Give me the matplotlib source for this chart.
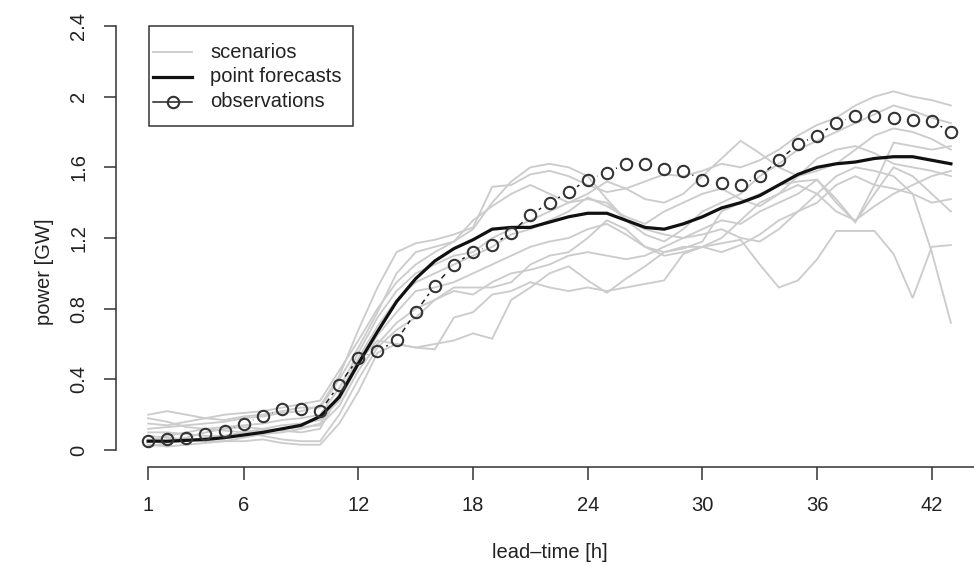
import numpy as np
import matplotlib
matplotlib.use("Agg")
import matplotlib.pyplot as plt
from matplotlib.lines import Line2D
from matplotlib.patches import Rectangle
from matplotlib.collections import LineCollection

plt.rcParams['font.family'] = ['Liberation Sans', 'DejaVu Sans']

# ---------------- data ----------------
lead_time = list(range(1, 44))

observations = [0.05, 0.06, 0.07, 0.09, 0.11, 0.15, 0.19, 0.23, 0.23, 0.22,
                 0.37, 0.52, 0.56, 0.62, 0.78, 0.93, 1.05, 1.12, 1.16, 1.23,
                 1.33, 1.40, 1.46, 1.53, 1.57, 1.62, 1.62, 1.59, 1.58, 1.53,
                 1.51, 1.50, 1.55, 1.64, 1.73, 1.78, 1.85, 1.89, 1.89, 1.88,
                 1.87, 1.86, 1.80]

point_forecast = [0.05, 0.05, 0.055, 0.06, 0.07, 0.085, 0.10, 0.12, 0.14, 0.19,
                  0.30, 0.49, 0.67, 0.84, 0.97, 1.07, 1.14, 1.19, 1.25, 1.26,
                  1.26, 1.29, 1.32, 1.34, 1.34, 1.30, 1.26, 1.25, 1.28, 1.32,
                  1.37, 1.40, 1.44, 1.50, 1.56, 1.60, 1.62, 1.63, 1.65, 1.66,
                  1.66, 1.64, 1.62]

scenario_1 = [0.12, 0.13, 0.14, 0.15, 0.16, 0.18, 0.19, 0.21, 0.22, 0.25,
              0.42, 0.68, 0.92, 1.12, 1.17, 1.19, 1.22, 1.26, 1.49, 1.50,
              1.56, 1.58, 1.55, 1.50, 1.46, 1.48, 1.52, 1.56, 1.55, 1.58,
              1.62, 1.60, 1.64, 1.70, 1.78, 1.84, 1.88, 1.95, 2.00, 2.03,
              2.00, 1.98, 1.95]
scenario_2 = [0.03, 0.02, 0.03, 0.04, 0.05, 0.05, 0.06, 0.04, 0.03, 0.03,
              0.15, 0.33, 0.55, 0.60, 0.58, 0.60, 0.62, 0.66, 0.63, 0.85,
              0.92, 1.00, 1.04, 0.96, 0.89, 0.97, 1.04, 1.12, 1.15, 1.15,
              1.12, 1.16, 1.22, 1.30, 1.35, 1.45, 1.55, 1.60, 1.58, 1.55,
              1.45, 1.12, 0.72]
scenario_3 = [0.08, 0.07, 0.06, 0.05, 0.05, 0.07, 0.09, 0.10, 0.12, 0.15,
              0.30, 0.50, 0.62, 0.60, 0.58, 0.57, 0.75, 0.78, 0.88, 0.90,
              0.95, 0.92, 0.90, 0.92, 0.90, 0.92, 0.94, 0.96, 1.11, 1.15,
              1.17, 1.19, 1.05, 0.92, 0.96, 1.08, 1.24, 1.24, 1.24, 1.11,
              0.86, 1.15, 1.16]
scenario_4 = [0.05, 0.08, 0.10, 0.12, 0.13, 0.14, 0.15, 0.17, 0.18, 0.20,
              0.35, 0.55, 0.75, 0.90, 1.00, 1.05, 1.10, 1.12, 1.20, 1.25,
              1.30, 1.35, 1.40, 1.42, 1.40, 1.30, 1.25, 1.22, 1.20, 1.25,
              1.30, 1.28, 1.35, 1.40, 1.45, 1.53, 1.42, 1.29, 1.45, 1.60,
              1.55, 1.45, 1.35]
scenario_5 = [0.15, 0.14, 0.16, 0.18, 0.20, 0.21, 0.22, 0.24, 0.26, 0.28,
              0.45, 0.62, 0.80, 0.95, 1.05, 1.12, 1.18, 1.30, 1.38, 1.45,
              1.50, 1.45, 1.40, 1.45, 1.52, 1.48, 1.42, 1.40, 1.45, 1.55,
              1.65, 1.75, 1.68, 1.60, 1.55, 1.58, 1.62, 1.70, 1.78, 1.82,
              1.80, 1.76, 1.70]
scenario_6 = [0.20, 0.22, 0.20, 0.18, 0.17, 0.19, 0.20, 0.22, 0.24, 0.24,
              0.40, 0.58, 0.78, 1.00, 1.12, 1.15, 1.18, 1.25, 1.40, 1.52,
              1.60, 1.62, 1.60, 1.55, 1.42, 1.30, 1.22, 1.18, 1.25, 1.35,
              1.40, 1.45, 1.55, 1.62, 1.70, 1.75, 1.80, 1.85, 1.90, 1.95,
              1.92, 1.88, 1.85]
scenario_7 = [0.10, 0.10, 0.09, 0.08, 0.08, 0.10, 0.11, 0.12, 0.13, 0.14,
              0.25, 0.45, 0.60, 0.72, 0.80, 0.85, 0.92, 0.92, 0.92, 0.95,
              1.05, 1.10, 1.12, 1.20, 1.30, 1.25, 1.15, 1.10, 1.12, 1.15,
              1.20, 1.30, 1.40, 1.45, 1.50, 1.45, 1.35, 1.30, 1.38, 1.45,
              1.50, 1.55, 1.58]
scenario_8 = [0.06, 0.05, 0.07, 0.10, 0.12, 0.13, 0.12, 0.11, 0.10, 0.12,
              0.32, 0.52, 0.70, 0.85, 0.95, 1.00, 1.05, 1.10, 1.15, 1.22,
              1.25, 1.30, 1.35, 1.43, 1.38, 1.32, 1.28, 1.35, 1.40, 1.45,
              1.48, 1.42, 1.38, 1.45, 1.55, 1.65, 1.70, 1.72, 1.68, 1.62,
              1.60, 1.58, 1.55]
scenario_9 = [0.02, 0.04, 0.05, 0.07, 0.08, 0.10, 0.12, 0.14, 0.15, 0.17,
              0.28, 0.48, 0.65, 0.78, 0.90, 0.92, 0.95, 1.00, 1.05, 1.10,
              1.15, 1.18, 1.20, 1.25, 1.28, 1.22, 1.15, 1.12, 1.14, 1.18,
              1.35, 1.40, 1.45, 1.50, 1.52, 1.53, 1.40, 1.29, 1.50, 1.74,
              1.72, 1.70, 1.72]
scenario_10 = [0.18, 0.16, 0.13, 0.12, 0.11, 0.10, 0.08, 0.06, 0.05, 0.05,
               0.20, 0.40, 0.58, 0.68, 0.75, 0.85, 0.90, 0.88, 0.95, 1.00,
               1.02, 1.05, 1.10, 1.12, 1.10, 1.08, 1.10, 1.15, 1.20, 1.22,
               1.25, 1.20, 1.18, 1.25, 1.35, 1.40, 1.50, 1.55, 1.50, 1.48,
               1.45, 1.40, 1.42]
scenarios = [scenario_1, scenario_2, scenario_3, scenario_4, scenario_5,
             scenario_6, scenario_7, scenario_8, scenario_9, scenario_10]

x_ticks = [1, 6, 12, 18, 24, 30, 36, 42]
y_ticks = [0, 0.4, 0.8, 1.2, 1.6, 2.0, 2.4]
y_tick_labels = ["0", "0.4", "0.8", "1.2", "1.6", "2", "2.4"]

# ---------------- figure ----------------
W, H = 974, 566
fig = plt.figure(figsize=(W / 100, H / 100), dpi=100)
fig.patch.set_facecolor('white')

def fx(px):
    return px / W

def fy(py):
    return 1 - py / H

# axes region in pixels (left, top, right, bottom)
L, T, R, B = 116, 9, 983, 467
ax = fig.add_axes([fx(L), fy(B), (R - L) / W, (B - T) / H])

xmin, xmax = min(lead_time), max(lead_time)
xpad = 0.04 * (xmax - xmin)
ax.set_xlim(xmin - xpad, xmax + xpad)
ax.set_ylim(0 - 0.04 * 2.4, 2.4 + 0.04 * 2.4)

text_color = '#222222'
scen_color = '#cccccc'
FS = 14.5

for s in scenarios:
    ax.plot(lead_time, s, color=scen_color, lw=1.35, zorder=1,
            solid_joinstyle='miter')

ax.plot(lead_time, point_forecast, color='#111111', lw=2.3, zorder=3)

# observations: type="b" style (dashed segments with gaps around points)
fig.canvas.draw()
pts = ax.transData.transform(np.column_stack([lead_time, observations]))
gap = 10.0
segs = []
for p1, p2 in zip(pts[:-1], pts[1:]):
    d = p2 - p1
    dist = np.hypot(*d)
    if dist > 2 * gap:
        u = d / dist
        a = p1 + u * gap
        b = p2 - u * gap
        segs.append(ax.transData.inverted().transform(np.array([a, b])))
lc = LineCollection(segs, colors='#222222', linewidths=1.1,
                    linestyles=(0, (3.5, 3)), zorder=4)
ax.add_collection(lc)
ax.plot(lead_time, observations, linestyle='none', marker='o', ms=8.2,
        mfc='none', mec='#333333', mew=1.5, zorder=5)

# axes styling (R-like detached axes)
for sp in ['top', 'right']:
    ax.spines[sp].set_visible(False)
ax.spines['left'].set_bounds(0, 2.4)
ax.spines['bottom'].set_bounds(1, xmax + xpad)
for sp in ['left', 'bottom']:
    ax.spines[sp].set_color('#333333')
    ax.spines[sp].set_linewidth(1.1)

ax.set_xticks(x_ticks)
ax.set_xticklabels([str(t) for t in x_ticks])
ax.set_yticks(y_ticks)
ax.set_yticklabels(y_tick_labels, rotation=90, va='center')
ax.tick_params(axis='x', length=9, width=1.1, color='#333333', pad=12,
               labelsize=FS, labelcolor=text_color)
ax.tick_params(axis='y', length=9, width=1.1, color='#333333', pad=11,
               labelsize=FS, labelcolor=text_color)

fig.text(fx(550), fy(553), "lead\u2013time [h]", ha='center', va='center',
         fontsize=FS, color=text_color)
fig.text(fx(45), fy(272), "power [GW]", ha='center', va='center',
         rotation=90, fontsize=FS, color=text_color)

# legend (R-style box)
fig.add_artist(Rectangle((fx(149), fy(126)), (353 - 149) / W, (126 - 26) / H,
                         transform=fig.transFigure, facecolor='white',
                         edgecolor='#333333', lw=1.1, zorder=10))
rows = [52, 77, 102]
labels = ["scenarios", "point forecasts", "observations"]
fig.add_artist(Line2D([fx(153), fx(192)], [fy(rows[0])] * 2,
                      transform=fig.transFigure, color=scen_color, lw=1.35,
                      zorder=11))
fig.add_artist(Line2D([fx(153), fx(192)], [fy(rows[1])] * 2,
                      transform=fig.transFigure, color='#111111', lw=2.3,
                      zorder=11))
fig.add_artist(Line2D([fx(153), fx(192)], [fy(rows[2])] * 2,
                      transform=fig.transFigure, color='#222222', lw=1.1,
                      zorder=11))
fig.add_artist(Line2D([fx(172.5)], [fy(rows[2])], transform=fig.transFigure,
                      linestyle='none', marker='o', ms=8.2, mfc='none',
                      mec='#333333', mew=1.5, zorder=12))
for r, lab in zip(rows, labels):
    fig.text(fx(210), fy(r), lab, ha='left', va='center', fontsize=FS,
             color=text_color, zorder=12)

fig.savefig("out.png", dpi=100, facecolor='white')
